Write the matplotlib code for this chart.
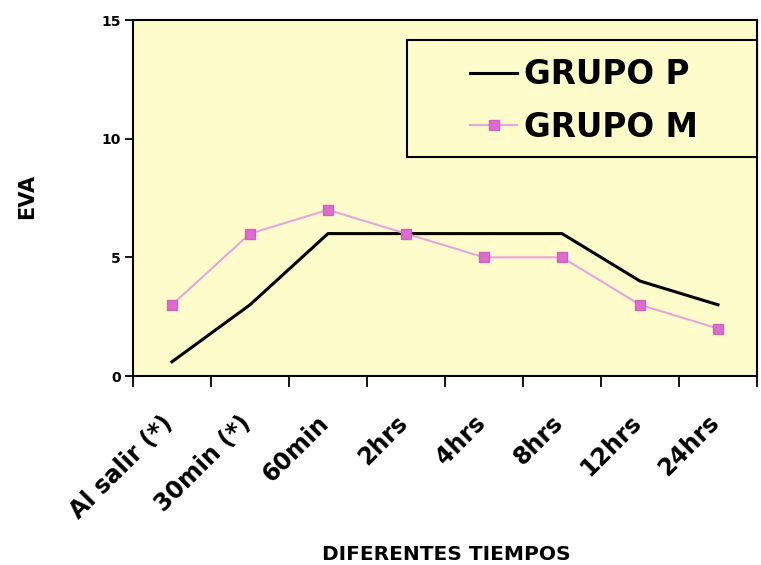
import matplotlib.pyplot as plt
import matplotlib.transforms as mtransforms
from matplotlib.patches import Rectangle
import numpy as np

tiempos = ['Al salir (*)', '30min (*)', '60min', '2hrs', '4hrs', '8hrs', '12hrs', '24hrs']
grupo_p = [0.6, 3, 6, 6, 6, 6, 4, 3]
grupo_m = [3, 6, 7, 6, 5, 5, 3, 2]
yticks = [0, 5, 10, 15]

plt.rcParams['font.family'] = ['DejaVu Sans']
plt.rcParams['font.weight'] = 'bold'

fondo = '#fffccc'
fig = plt.figure(figsize=(7.61, 5.65), dpi=100)
ax = fig.add_axes([133/761, 1-376/565, (757-133)/761, (376-20)/565])
ax.set_facecolor(fondo)

x = np.arange(len(tiempos)) + 0.5
ax.plot(x, grupo_p, color='black', lw=2.2, label='GRUPO P')
ax.plot(x, grupo_m, color='#e6a6dc', lw=1.5, marker='s', ms=7.5,
        mfc='#dd6ccf', mec='#d25fc6', label='GRUPO M')

ax.set_xlim(0, len(tiempos))
ax.set_ylim(0, 15)
ax.set_yticks(yticks)
ax.set_yticklabels([str(v) for v in yticks], fontsize=10, fontweight='bold')
ax.set_xticks(np.arange(len(tiempos) + 1))
ax.set_xticklabels([])
ax.set_xticks(x, minor=True)
ax.set_xticklabels(tiempos, minor=True, rotation=45, ha='right', va='top',
                   rotation_mode='anchor', fontsize=17, fontweight='bold')
ax.tick_params(axis='x', which='major', length=8, width=1.3, direction='out')
ax.tick_params(axis='x', which='minor', length=0, pad=25)
ax.tick_params(axis='y', length=6, width=1.3, pad=3)
# labels sit a bit left of each category centre
shift = mtransforms.ScaledTranslation(-0.11, 0, fig.dpi_scale_trans)
for lab in ax.get_xticklabels(minor=True):
    lab.set_transform(lab.get_transform() + shift)
for s in ax.spines.values():
    s.set_linewidth(1.5)

fig.text(27/761, 1-196/565, 'EVA', fontsize=15, fontweight='bold', rotation=90,
         ha='center', va='center')
fig.text(446/761, 1-555/565, 'DIFERENTES TIEMPOS', fontsize=14.5, fontweight='bold',
         ha='center', va='center')

# legend box
fig.patches.append(Rectangle((407/761, 1-157/565), (757-407)/761, (157-40)/565,
                             transform=fig.transFigure, facecolor=fondo,
                             edgecolor='black', lw=1.5, zorder=3))
leg = fig.legend(loc='center left', bbox_to_anchor=(470/761, 1-101/565),
                 frameon=False, handlelength=1.45, handletextpad=0.2,
                 labelspacing=0.6, borderpad=0, borderaxespad=0,
                 prop={'weight': 'bold', 'size': 23.5})
leg.set_zorder(4)

fig.savefig('out.png', dpi=100)
